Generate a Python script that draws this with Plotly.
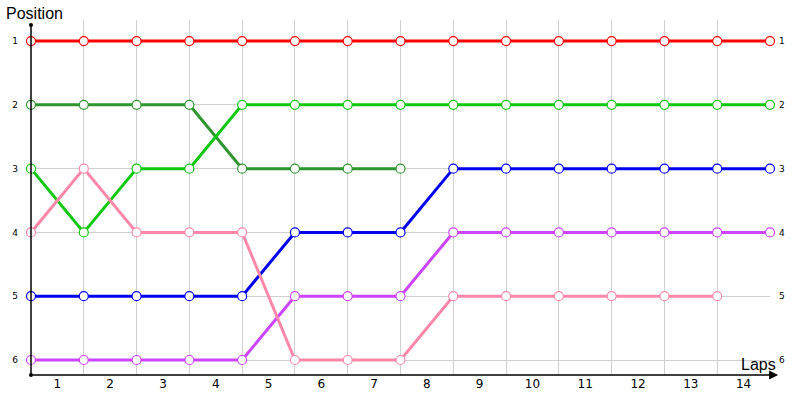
import plotly.graph_objects as go

# lap boundaries (points) and lap labels
laps_x = [0, 1, 2, 3, 4, 5, 6, 7, 8, 9, 10, 11, 12, 13, 14]
lap_labels = ["1", "2", "3", "4", "5", "6", "7", "8", "9", "10", "11", "12", "13", "14"]
positions = [1, 2, 3, 4, 5, 6]

red_pos = [1, 1, 1, 1, 1, 1, 1, 1, 1, 1, 1, 1, 1, 1, 1]
darkgreen_pos = [2, 2, 2, 2, 3, 3, 3, 3]
green_pos = [3, 4, 3, 3, 2, 2, 2, 2, 2, 2, 2, 2, 2, 2, 2]
pink_pos = [4, 3, 4, 4, 4, 6, 6, 6, 5, 5, 5, 5, 5, 5]
blue_pos = [5, 5, 5, 5, 5, 4, 4, 4, 3, 3, 3, 3, 3, 3, 3]
purple_pos = [6, 6, 6, 6, 6, 5, 5, 5, 4, 4, 4, 4, 4, 4, 4]

series = [
    ("darkgreen", darkgreen_pos, "#2e962e"),
    ("green", green_pos, "#11c811"),
    ("purple", purple_pos, "#cc44ff"),
    ("blue", blue_pos, "#0000f0"),
    ("pink", pink_pos, "#ff88aa"),
    ("red", red_pos, "#ff0000"),
]

fig = go.Figure()
for name, ys, col in series:
    fig.add_trace(go.Scatter(
        x=laps_x[:len(ys)], y=ys, mode="lines+markers", name=name,
        line=dict(color=col, width=3),
        marker=dict(size=9, color="white", line=dict(color=col, width=1.2)),
        cliponaxis=False,
    ))

# invisible trace so the right axis is drawn
fig.add_trace(go.Scatter(x=[0], y=[1], yaxis="y2", mode="markers",
                         marker=dict(opacity=0), hoverinfo="skip"))

fig.update_layout(
    width=800, height=400,
    margin=dict(l=31, r=30, t=20, b=25),
    plot_bgcolor="white", paper_bgcolor="white",
    showlegend=False,
    font=dict(family="Liberation Sans", color="black"),
    xaxis=dict(
        range=[0, 14], showgrid=False, zeroline=False, showline=False,
        automargin=False,
        tickmode="array", tickvals=[0.5 + i for i in range(14)], ticktext=lap_labels,
        ticks="", tickfont=dict(size=12, family="DejaVu Sans"),
        minor=dict(tickmode="array", tickvals=laps_x, showgrid=True,
                   gridcolor="#d0d0d0", gridwidth=1, ticks=""),
    ),
    yaxis=dict(
        range=[6.235, 0.67], tickmode="array", tickvals=positions,
        ticktext=[str(p) for p in positions], automargin=False,
        showgrid=True, gridcolor="#d0d0d0", zeroline=False, showline=False,
        ticks="", ticklabelstandoff=12, tickfont=dict(size=9, family="DejaVu Sans"),
    ),
    yaxis2=dict(
        range=[6.235, 0.67], overlaying="y", side="right", tickmode="array",
        tickvals=positions, ticktext=[str(p) for p in positions], automargin=False,
        showgrid=False, zeroline=False, showline=False, ticks="",
        ticklabelstandoff=8, tickfont=dict(size=9, family="DejaVu Sans"),
    ),
    shapes=[
        dict(type="line", xref="paper", yref="paper", x0=0, x1=0, y0=0, y1=0.986,
             line=dict(color="black", width=1.5)),
        dict(type="circle", xref="paper", yref="paper", xsizemode="pixel", ysizemode="pixel",
             xanchor=0, yanchor=0.986, x0=-2, x1=2, y0=-2, y1=2,
             fillcolor="black", line=dict(width=0)),
        dict(type="circle", xref="paper", yref="paper", xsizemode="pixel", ysizemode="pixel",
             xanchor=0, yanchor=0, x0=-2, x1=2, y0=-2, y1=2,
             fillcolor="black", line=dict(width=0)),
    ],
    annotations=[
        dict(xref="paper", yref="paper", x=1.011, y=0, ax=-747, ay=0,
             showarrow=True, arrowhead=2, arrowsize=1.2, arrowwidth=1.5,
             arrowcolor="black", text=""),
        dict(xref="paper", yref="paper", x=-0.036, y=1.0, yshift=-4,
             xanchor="left", yanchor="bottom", text="Position", showarrow=False,
             font=dict(size=16, family="Liberation Sans")),
        dict(xref="paper", yref="paper", x=1.011, y=0, yshift=0,
             xanchor="right", yanchor="bottom", text="Laps", showarrow=False,
             font=dict(size=16, family="Liberation Sans")),
    ],
)

# drop the page's default body margin so the chart sits at the window's corner
fig.write_html("out.html", config={"displayModeBar": False},
               post_script="document.body.style.margin='0';")
